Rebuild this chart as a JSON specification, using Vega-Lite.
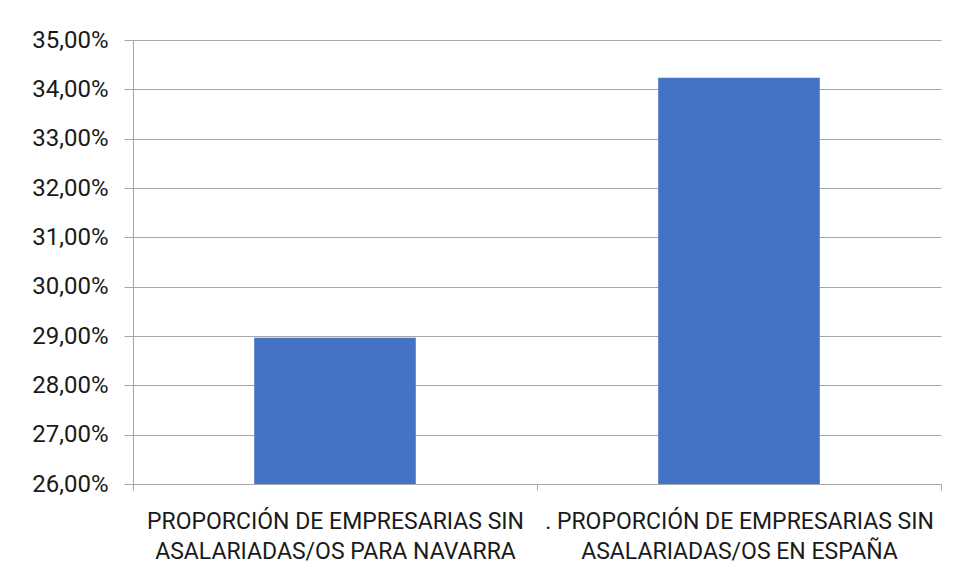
{
  "$schema": "https://vega.github.io/schema/vega-lite/v6.json",
  "autosize": {"type": "none"},
  "padding": {"left": 133, "top": 40, "right": 16, "bottom": 94},
  "width": 808,
  "height": 444,
  "background": "white",
  "config": {
    "view": {"stroke": null},
    "locale": {"number": {"decimal": ",", "thousands": ".", "grouping": [3], "currency": ["", " €"]}},
    "font": "Roboto"
  },
  "data": {
    "values": [
      {"categoria": "PROPORCIÓN DE EMPRESARIAS SIN|ASALARIADAS/OS PARA NAVARRA", "valor": 0.28965},
      {"categoria": ". PROPORCIÓN DE EMPRESARIAS SIN|ASALARIADAS/OS EN ESPAÑA", "valor": 0.34237}
    ]
  },
  "mark": {"type": "bar", "color": "#4472C4", "width": {"band": 0.4}},
  "encoding": {
    "x": {
      "field": "categoria",
      "type": "nominal",
      "sort": null,
      "scale": {"paddingInner": 0, "paddingOuter": 0},
      "axis": {
        "title": null,
        "labelAngle": 0,
        "labelExpr": "split(datum.label, '|')",
        "labelFont": "Roboto",
        "labelFontSize": 23,
        "labelLimit": 0,
        "labelColor": "#1a1a1a",
        "labelLineHeight": 30,
        "labelPadding": 20,
        "tickBand": "extent",
        "tickSize": 6,
        "tickColor": "#a6a6a6",
        "domainColor": "#a6a6a6",
        "grid": false
      }
    },
    "y": {
      "field": "valor",
      "type": "quantitative",
      "scale": {"domain": [0.26, 0.35], "zero": false, "nice": false},
      "axis": {
        "title": null,
        "format": ".2%",
        "values": [0.26, 0.27, 0.28, 0.29, 0.30, 0.31, 0.32, 0.33, 0.34, 0.35],
        "labelFont": "Roboto",
        "labelFontSize": 24,
        "labelColor": "#1a1a1a",
        "labelPadding": 16,
        "tickSize": 9,
        "tickColor": "#a6a6a6",
        "domainColor": "#a6a6a6",
        "gridColor": "#a6a6a6",
        "grid": true
      }
    },
    "y2": {"datum": 0.26}
  }
}
